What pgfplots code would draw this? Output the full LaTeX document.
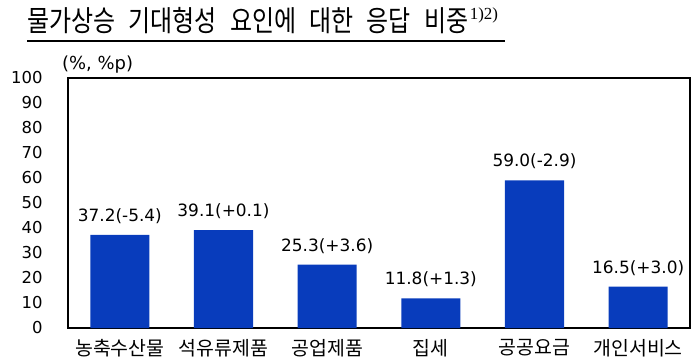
\documentclass[border=0pt]{standalone}
\usepackage{pgfplots}
\pgfplotsset{compat=1.18}
\usepackage{fontspec}
\setmainfont{DejaVu Sans}
\newfontfamily\kr{Noto Sans CJK KR}
\newfontfamily\serif{Liberation Serif}
\definecolor{barblue}{RGB}{8,60,188}
\newcommand{\bl}{\fontsize{17}{19}\selectfont}
\begin{document}
\begin{tikzpicture}
\useasboundingbox (0bp,0bp) rectangle (699bp,360bp);
\begin{axis}[
  at={(68bp,32bp)}, anchor=south west,
  scale only axis, width=622bp, height=250bp,
  xmin=-0.5, xmax=5.5, ymin=0, ymax=100,
  ytick={0,10,...,100},
  xtick={0,...,5},
  xticklabels={농축수산물,석유류제품,공업제품,집세,공공요금,개인서비스},
  major tick length=0pt,
  axis line style={black, line width=1.5pt},
  /pgf/number format/assume math mode=true,
  yticklabel style={font=\fontsize{16.5}{18}\selectfont, anchor=east, xshift=-22bp},
  xticklabel style={font=\kr\fontsize{19.5}{22}\selectfont, anchor=center, yshift=-20bp},
  ybar, bar width=0.57,
  every node near coord/.append style={anchor=center, yshift=19bp},
  clip=false,
]
\addplot[fill=barblue, draw=none,
  nodes near coords={\bl\pgfplotspointmeta},
  point meta=explicit symbolic]
  table[meta=label] {
  x y label
  0 37.2 37.2(-5.4)
  1 39.1 39.1(+0.1)
  2 25.3 25.3(+3.6)
  3 11.8 11.8(+1.3)
  4 59.0 59.0(-2.9)
  5 16.5 16.5(+3.0)
};
\end{axis}
\node[anchor=west, inner sep=0pt, font=\fontsize{18}{20}\selectfont] at (62bp,295bp) {(\%, \%p)};
\node[anchor=base west, inner sep=0pt] (t) at (27bp,328bp) {\scalebox{0.83}[1]{\kr\fontsize{29}{32}\selectfont 물가상승\hspace{16pt}기대형성\hspace{16pt}요인에\hspace{16pt}대한\hspace{16pt}응답\hspace{16pt}비중}};
\node[anchor=base west, inner sep=0pt, font=\serif\fontsize{17}{18}\selectfont] at ([xshift=1bp,yshift=12bp]t.base east) {1)2)};
\draw[line width=2pt] (27bp,319bp) -- (505bp,319bp);
\end{tikzpicture}
\end{document}
